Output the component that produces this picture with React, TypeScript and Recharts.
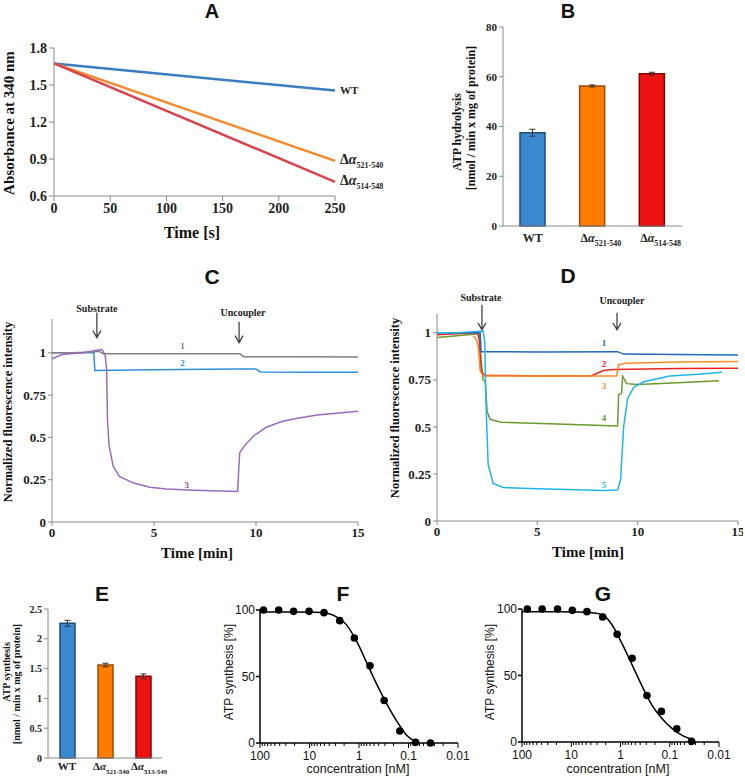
import React from 'react';
import {
  LineChart, Line, XAxis, YAxis, BarChart, Bar, Cell, ErrorBar,
  ComposedChart, Scatter, ReferenceDot,
} from 'recharts';

const SERIF = '"Liberation Serif", "Times New Roman", serif';
const SANS = '"Liberation Sans", Arial, sans-serif';
const AXIS = '#8a8a8a';

// ---- A: absorbance vs time
const aTime = [0, 250];
const aWT = [1.675, 1.455];
const aDel521 = [1.675, 0.885];
const aDel514 = [1.675, 0.715];
const aXTicks = [0, 50, 100, 150, 200, 250];
const aYTicks = [0.6, 0.9, 1.2, 1.5, 1.8];

// ---- B: ATP hydrolysis
const bCats = ['WT', 'Δα521-540', 'Δα514-548'];
const bValues = [37.5, 56.3, 61.2];
const bErrors = [1.4, 0.4, 0.6];
const bYTicks = [0, 20, 40, 60, 80];

// bar colours shared by B and E
const barFill = ['#3a89d0', '#ff7c00', '#ee1111'];
const barEdge = ['#1f4e79', '#9a4a00', '#8a0000'];

// ---- C: fluorescence traces [min, intensity]
const cTrace1: [number, number][] = [[0, 1.0], [1, 1.0], [2, 1.005], [2.3, 1.01], [2.5, 0.995], [6, 0.995], [9.2, 0.995], [9.4, 0.977], [12, 0.977], [15, 0.975]];
const cTrace2: [number, number][] = [[0, 1.0], [2.05, 1.0], [2.1, 0.895], [5, 0.9], [9, 0.905], [10, 0.905], [10.2, 0.887], [13, 0.885], [15, 0.885]];
const cTrace3: [number, number][] = [[0, 0.965], [0.5, 0.99], [1.5, 1.0], [2.2, 1.015], [2.45, 1.02], [2.6, 0.99], [2.68, 0.9], [2.72, 0.6], [2.8, 0.45], [3.0, 0.33], [3.3, 0.27], [4, 0.23], [4.8, 0.205], [5.6, 0.195], [7, 0.187], [9.1, 0.18], [9.15, 0.3], [9.2, 0.41], [9.5, 0.46], [9.9, 0.51], [10.5, 0.56], [11.3, 0.595], [12.1, 0.615], [13, 0.632], [13.8, 0.642], [15, 0.655]];

// ---- D: fluorescence traces [min, intensity]
const dTrace1: [number, number][] = [[0, 1.0], [2.15, 1.0], [2.2, 0.9], [5, 0.898], [9.0, 0.9], [9.3, 0.887], [12, 0.885], [15, 0.882]];
const dTrace2: [number, number][] = [[0, 0.99], [2.0, 1.0], [2.1, 0.97], [2.2, 0.8], [2.35, 0.775], [5, 0.77], [7.7, 0.772], [8.3, 0.8], [8.8, 0.805], [12, 0.81], [15, 0.812]];
const dTrace3: [number, number][] = [[1.8, 0.985], [1.95, 0.965], [2.05, 0.93], [2.15, 0.8], [2.3, 0.77], [5, 0.77], [8.95, 0.77], [9.05, 0.83], [9.4, 0.838], [12, 0.845], [15, 0.848]];
const dTrace4: [number, number][] = [[0, 0.975], [1, 0.985], [2.1, 0.995], [2.2, 0.85], [2.3, 0.75], [2.4, 0.74], [2.5, 0.58], [2.65, 0.54], [3.2, 0.525], [6, 0.515], [9.0, 0.505], [9.05, 0.67], [9.2, 0.68], [9.25, 0.77], [9.45, 0.73], [10, 0.725], [12, 0.735], [14.05, 0.745]];
const dTrace5: [number, number][] = [[0, 1.0], [1, 1.0], [2.3, 1.01], [2.38, 0.95], [2.45, 0.6], [2.55, 0.3], [2.8, 0.2], [3.3, 0.178], [5, 0.172], [8.3, 0.162], [9.0, 0.165], [9.15, 0.22], [9.3, 0.5], [9.5, 0.65], [9.8, 0.71], [10.3, 0.74], [11.6, 0.77], [13, 0.78], [14.2, 0.79]];
const timeTicks = [0, 5, 10, 15];
const fluoTicks = [0, 0.25, 0.5, 0.75, 1];

// ---- E: ATP synthesis
const eCats = ['WT', 'Δα521-540', 'Δα513-549'];
const eValues = [2.26, 1.56, 1.37];
const eErrors = [0.05, 0.03, 0.04];
const eYTicks = [0, 0.5, 1, 1.5, 2, 2.5];

// ---- F / G: inhibition curves
const fConc = [85, 42, 21, 10.2, 5.1, 2.45, 1.24, 0.6, 0.31, 0.15, 0.072, 0.036];
const fPct = [100, 100, 99, 99, 98, 92, 79, 58, 32, 9, 0.5, 0];
const fCurveConc = [100, 20, 8, 4.5, 2.9, 1.8, 1.1, 0.71, 0.45, 0.28, 0.17, 0.11, 0.063];
const fCurvePct = [98.5, 98.5, 98.3, 97.5, 95, 89, 76, 61, 45, 30, 16, 6, 0];
const gConc = [78, 39, 19, 9.5, 4.8, 2.3, 1.17, 0.58, 0.29, 0.148, 0.072, 0.036];
const gPct = [100, 100, 100, 99, 98, 94, 81, 63, 35, 23, 10, 0.5];
const gCurveConc = [100, 20, 8, 4.8, 2.3, 1.48, 0.93, 0.58, 0.36, 0.23, 0.144, 0.089, 0.056, 0.034];
const gCurvePct = [98, 98, 97.8, 97.5, 95.7, 88, 74, 58, 41.6, 27.7, 17.6, 10, 5, 1.8];
const logMajor = [100, 10, 1, 0.1, 0.01];
const logMinor = [90, 80, 70, 60, 50, 40, 30, 20, 9, 8, 7, 6, 5, 4, 3, 2, 0.9, 0.8, 0.7, 0.6, 0.5, 0.4, 0.3, 0.2, 0.09, 0.08, 0.07, 0.06, 0.05, 0.04, 0.03, 0.02];
const pctTicks = [0, 50, 100];

const toPts = (tr: [number, number][]) => tr.map(([t, v]) => ({ t, v }));
const aData = aTime.map((t, i) => ({ t, wt: aWT[i], d521: aDel521[i], d514: aDel514[i] }));
const bData = bCats.map((name, i) => ({ name, v: bValues[i], err: bErrors[i] }));
const eData = eCats.map((name, i) => ({ name, v: eValues[i], err: eErrors[i] }));
const zip = (c: number[], p: number[]) => c.map((x, i) => ({ c: x, y: p[i] }));

function Lbl({ x, y, size, text, font = SERIF, bold = true, rot = false }: any) {
  return (
    <div style={{
      position: 'absolute', left: x, top: y, fontFamily: font, fontWeight: bold ? 700 : 400,
      fontSize: size, lineHeight: 1, whiteSpace: 'nowrap', color: '#111',
      transform: `translate(-50%, -50%)${rot ? ' rotate(-90deg)' : ''}`,
    }}>{text}</div>
  );
}

function DeltaText({ x, y, label, fs, sub, anchor = 'start', color = '#222' }: any) {
  const m = /^Δα(.+)$/.exec(label);
  return (
    <text x={x} y={y} textAnchor={anchor} fontFamily={SERIF} fontWeight="bold" fontSize={fs} fill={color}>
      {m ? (<><tspan>Δ</tspan><tspan fontStyle="italic">α</tspan><tspan fontSize={sub} dy={4}>{m[1]}</tspan></>) : label}
    </text>
  );
}

function BarTick({ x, y, payload, fs, sub, dy, shift }: any) {
  const isDelta = payload.value.startsWith('Δα');
  return (
    <DeltaText x={isDelta ? x - shift : x} y={y + dy} label={payload.value} fs={fs} sub={sub}
      anchor={isDelta ? 'start' : 'middle'} />
  );
}

function LogTick({ x, y, payload }: any) {
  const major = logMajor.includes(payload.value);
  return (
    <g>
      <line x1={x} y1={y} x2={x} y2={y + (major ? 5 : 3)} stroke="#000" strokeWidth={1} />
      {major && (
        <text x={x} y={y + 17} textAnchor="middle" fontFamily={SANS} fontSize={12} fill="#111">
          {String(payload.value)}
        </text>
      )}
    </g>
  );
}

const arrow = (len: number) => (p: any) => (
  <path d={`M${p.cx},${p.cy - len}V${p.cy}M${p.cx - 4},${p.cy - 7}L${p.cx},${p.cy}L${p.cx + 4},${p.cy - 7}`}
    stroke="#444" strokeWidth={1.3} fill="none" />
);
const note = (text: string, size: number, color: string) => (p: any) => (
  <text x={p.cx} y={p.cy} dy="0.35em" textAnchor="middle" fontFamily={SERIF} fontWeight="bold"
    fontSize={size} fill={color}>{text}</text>
);
const endLabel = (text: string) => (p: any) => (
  <DeltaText x={p.cx + 5} y={p.cy + 3} label={text} fs={text === 'WT' ? 11 : 14} sub={8} />
);

const serifTick = (fs: number) => ({ fontSize: fs, fontWeight: 'bold' as const, fontFamily: SERIF, fill: '#222' });
const sansTick = { fontSize: 12, fontFamily: SANS, fill: '#111' };

function PanelA() {
  return (
    <LineChart width={425} height={211} data={aData} margin={{ top: 18, right: 90, bottom: 0, left: 0 }}>
      <XAxis type="number" dataKey="t" domain={[0, 250]} ticks={aXTicks} height={45}
        stroke={AXIS} tickSize={5} tick={serifTick(14)} interval={0} />
      <YAxis type="number" domain={[0.6, 1.8]} ticks={aYTicks} width={54} stroke={AXIS} tickSize={5}
        tick={serifTick(14)} tickFormatter={(v: number) => v.toFixed(1)} interval={0} />
      <Line dataKey="wt" stroke="#3b7dc1" strokeWidth={2.5} dot={false} isAnimationActive={false} />
      <Line dataKey="d521" stroke="#f7882a" strokeWidth={2.5} dot={false} isAnimationActive={false} />
      <Line dataKey="d514" stroke="#d9434e" strokeWidth={2.5} dot={false} isAnimationActive={false} />
      <ReferenceDot x={250} y={aWT[1]} ifOverflow="visible" shape={endLabel('WT')} />
      <ReferenceDot x={250} y={aDel521[1]} ifOverflow="visible" shape={endLabel('Δα521-540')} />
      <ReferenceDot x={250} y={aDel514[1]} ifOverflow="visible" shape={endLabel('Δα514-548')} />
    </LineChart>
  );
}

function BarPanel({ data, width, height, margin, yw, xh, domain, ticks, barSize, tickFs, tickProps, fmt }: any) {
  return (
    <BarChart width={width} height={height} data={data} margin={margin}>
      <XAxis dataKey="name" height={xh} stroke={AXIS} tickSize={0} tickMargin={0} interval={0}
        tick={<BarTick {...tickProps} />} />
      <YAxis type="number" domain={domain} ticks={ticks} width={yw} stroke={AXIS} tickSize={4}
        tick={serifTick(tickFs)} interval={0} tickFormatter={fmt} />
      <Bar dataKey="v" barSize={barSize} isAnimationActive={false}>
        {data.map((_: any, i: number) => (
          <Cell key={i} fill={barFill[i]} stroke={barEdge[i]} strokeWidth={1.5} />
        ))}
        <ErrorBar dataKey="err" width={3} stroke="#333" strokeWidth={1} />
      </Bar>
    </BarChart>
  );
}

function TracePanel({ width, height, margin, yw, ymax, traces, notes }: any) {
  return (
    <LineChart width={width} height={height} margin={margin}>
      <XAxis type="number" dataKey="t" domain={[0, 15]} ticks={timeTicks} height={30} stroke={AXIS}
        tickSize={4} tick={serifTick(13)} interval={0} />
      <YAxis type="number" domain={[0, ymax]} ticks={fluoTicks} width={yw} stroke={AXIS} tickSize={4}
        tick={serifTick(13)} interval={0} allowDataOverflow />
      {traces.map((tr: any) => (
        <Line key={tr.key} data={toPts(tr.data)} dataKey="v" stroke={tr.color} strokeWidth={1.5}
          dot={false} isAnimationActive={false} />
      ))}
      {notes.map((n: any, i: number) => (
        <ReferenceDot key={i} x={n.x} y={n.y} ifOverflow="visible"
          shape={n.arrow ? arrow(n.arrow) : note(n.text, n.size, n.color)} />
      ))}
    </LineChart>
  );
}

function DosePanel({ width, height, margin, pts, curve }: any) {
  return (
    <ComposedChart width={width} height={height} margin={margin}>
      <XAxis type="number" dataKey="c" scale="log" domain={[0.01, 100]} reversed allowDataOverflow
        ticks={[...logMajor, ...logMinor]} interval={0} tickSize={0} tickMargin={0} height={25}
        tick={<LogTick />} stroke="#000" strokeWidth={1.5} />
      <YAxis type="number" dataKey="y" domain={[0, 100]} ticks={pctTicks} width={45} stroke="#000"
        strokeWidth={1.5} tickSize={4} tickMargin={1} tick={sansTick} interval={0} />
      <Line data={curve} dataKey="y" type="monotone" stroke="#000" strokeWidth={1.5} dot={false}
        isAnimationActive={false} />
      <Scatter data={pts} dataKey="y" isAnimationActive={false}
        shape={(p: any) => <circle cx={p.cx} cy={p.cy} r={3.8} fill="#000" />} />
    </ComposedChart>
  );
}

export default function App() {
  const box = (left: number, top: number, child: React.ReactNode) => (
    <div style={{ position: 'absolute', left, top }}>{child}</div>
  );
  return (
    <div style={{ position: 'absolute', left: 0, top: 0, width: 745, height: 778, background: '#fff', overflow: 'hidden' }}>
      {box(0, 30, <PanelA />)}
      {box(440, 15, (
        <BarPanel data={bData} width={252} height={241} margin={{ top: 12, right: 10, bottom: 0, left: 0 }}
          yw={63} xh={30} domain={[0, 80]} ticks={bYTicks} barSize={25} tickFs={11}
          tickProps={{ fs: 12, sub: 8, dy: 16, shift: 12 }} />
      ))}
      {box(0, 290, (
        <TracePanel width={373} height={262} margin={{ top: 29, right: 15, bottom: 0, left: 0 }} yw={52} ymax={1.2}
          traces={[
            { key: 'c2', data: cTrace2, color: '#2f8fdf' },
            { key: 'c1', data: cTrace1, color: '#808080' },
            { key: 'c3', data: cTrace3, color: '#9a6bc4' },
          ]}
          notes={[
            { x: 2.2, y: 1.265, text: 'Substrate', size: 10, color: '#222' },
            { x: 2.2, y: 1.09, arrow: 25 },
            { x: 9.36, y: 1.24, text: 'Uncoupler', size: 10, color: '#222' },
            { x: 9.17, y: 1.06, arrow: 21 },
            { x: 6.4, y: 1.04, text: '1', size: 9, color: '#808080' },
            { x: 6.4, y: 0.94, text: '2', size: 9, color: '#2f8fdf' },
            { x: 6.6, y: 0.22, text: '3', size: 9, color: '#8a50c0' },
          ]} />
      ))}
      {box(380, 285, (
        <TracePanel width={363} height={266} margin={{ top: 29, right: 5, bottom: 0, left: 0 }} yw={57} ymax={1.1}
          traces={[
            { key: 'd4', data: dTrace4, color: '#6b9a2f' },
            { key: 'd2', data: dTrace2, color: '#e8251e' },
            { key: 'd3', data: dTrace3, color: '#ff8a2a' },
            { key: 'd1', data: dTrace1, color: '#2569b8' },
            { key: 'd5', data: dTrace5, color: '#22b4ee' },
          ]}
          notes={[
            { x: 2.19, y: 1.186, text: 'Substrate', size: 10, color: '#222' },
            { x: 2.24, y: 1.016, arrow: 25 },
            { x: 9.22, y: 1.17, text: 'Uncoupler', size: 10, color: '#222' },
            { x: 8.97, y: 1.016, arrow: 17 },
            { x: 8.32, y: 0.947, text: '1', size: 9, color: '#2569b8' },
            { x: 8.32, y: 0.835, text: '2', size: 9, color: '#e8251e' },
            { x: 8.32, y: 0.72, text: '3', size: 9, color: '#ff8a2a' },
            { x: 8.32, y: 0.55, text: '4', size: 9, color: '#6b9a2f' },
            { x: 8.32, y: 0.19, text: '5', size: 9, color: '#22b4ee' },
          ]} />
      ))}
      {box(0, 600, (
        <BarPanel data={eData} width={167} height={176} margin={{ top: 9, right: 5, bottom: 0, left: 0 }}
          yw={48} xh={18} domain={[0, 2.5]} ticks={eYTicks} barSize={15} tickFs={10}
          tickProps={{ fs: 11, sub: 7, dy: 12, shift: 12 }} />
      ))}
      {box(215, 600, (
        <DosePanel width={255} height={168} margin={{ top: 10, right: 12, bottom: 0, left: 0 }}
          pts={zip(fConc, fPct)} curve={zip(fCurveConc, fCurvePct)} />
      ))}
      {box(477, 600, (
        <DosePanel width={254} height={167} margin={{ top: 9, right: 12, bottom: 0, left: 0 }}
          pts={zip(gConc, gPct)} curve={zip(gCurveConc, gCurvePct)} />
      ))}

      {/* panel letters */}
      <Lbl x={212} y={11} size={20} text="A" font={SANS} />
      <Lbl x={568} y={11} size={20} text="B" font={SANS} />
      <Lbl x={212} y={276} size={21} text="C" font={SANS} />
      <Lbl x={568} y={275} size={21} text="D" font={SANS} />
      <Lbl x={102} y={593} size={21} text="E" font={SANS} />
      <Lbl x={343} y={593} size={21} text="F" font={SANS} />
      <Lbl x={603} y={593} size={21} text="G" font={SANS} />

      {/* axis titles */}
      <Lbl x={9} y={123} size={15} text="Absorbance at 340 nm" rot />
      <Lbl x={192} y={233} size={16} text="Time [s]" />
      <Lbl x={457} y={132} size={12} text="ATP hydrolysis" rot />
      <Lbl x={471} y={118} size={12} text="[nmol / min x mg of protein]" rot />
      <Lbl x={8} y={412} size={12.5} text="Normalized  fluorescence intensity" rot />
      <Lbl x={197} y={553} size={15} text="Time [min]" />
      <Lbl x={395} y={408} size={12.5} text="Normalized  fluorescence intensity" rot />
      <Lbl x={588} y={552} size={15} text="Time [min]" />
      <Lbl x={7} y={672} size={10} text="ATP synthesis" rot />
      <Lbl x={17} y={684} size={10} text="[nmol / min x mg of protein]" rot />
      <Lbl x={229} y={672} size={12} text="ATP synthesis [%]" font={SANS} bold={false} rot />
      <Lbl x={358} y={769} size={12.5} text="concentration [nM]" font={SANS} bold={false} />
      <Lbl x={490} y={672} size={12} text="ATP synthesis [%]" font={SANS} bold={false} rot />
      <Lbl x={618} y={769} size={12.5} text="concentration [nM]" font={SANS} bold={false} />
    </div>
  );
}
